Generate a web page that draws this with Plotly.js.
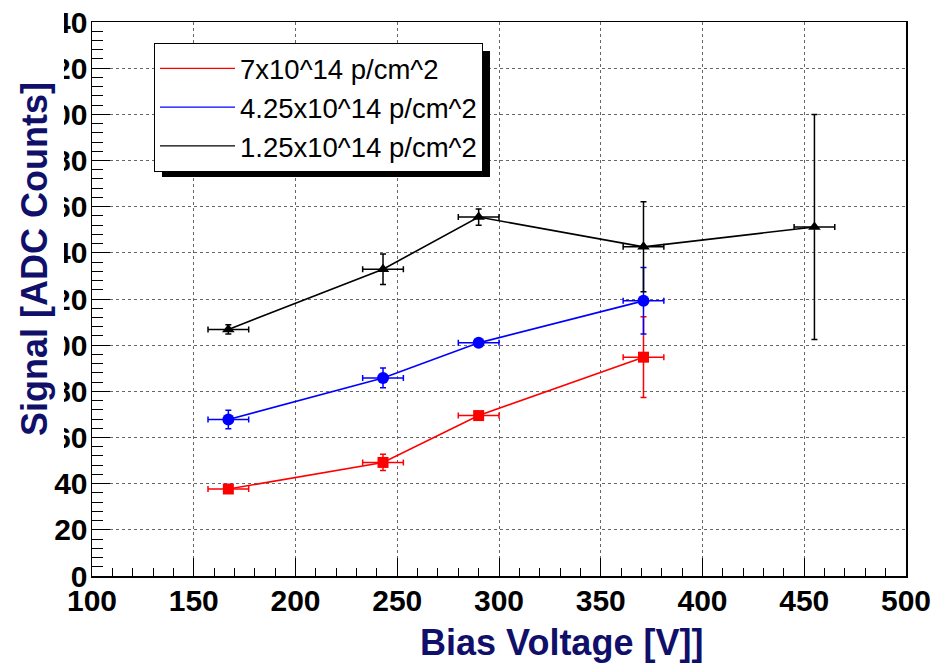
<!DOCTYPE html>
<html>
<head>
<meta charset="utf-8">
<script src="https://cdn.plot.ly/plotly-3.0.1.min.js"></script>
<style>html,body{margin:0;padding:0;background:#fff;}#chart{width:936px;height:664px;}</style>
</head>
<body>
<div id="chart"></div>
<script>
// ---- data ----
const legendLabels = ["7x10^14 p/cm^2", "4.25x10^14 p/cm^2", "1.25x10^14 p/cm^2"];

const volt7 = [167, 243, 290, 371];
const sig7 = [37.7, 49.2, 69.5, 94.8];
const sigErr7 = [1.5, 3.5, 1.5, 17.5];
const voltErr7 = [10, 10, 10, 10];

const volt425 = [167, 243, 290, 371];
const sig425 = [67.8, 85.8, 101.0, 119.2];
const sigErr425 = [4.0, 4.3, 1.5, 14.4];
const voltErr425 = [10, 10, 10, 10];

const volt125 = [167, 243, 290, 371, 455];
const sig125 = [106.8, 132.9, 155.5, 142.6, 151.2];
const sigErr125 = [2.0, 6.6, 3.5, 19.5, 48.7];
const voltErr125 = [10, 10, 10, 10, 10];

const xTitle = "Bias Voltage [V]]";
const yTitle = "Signal [ADC Counts]";

// ---- layout geometry (pixels) ----
const W = 936, H = 664;
const M = {l: 92, r: 30, t: 22, b: 88};
const pw = W - M.l - M.r, ph = H - M.t - M.b;
const px2x = p => (p - M.l) / pw;
const py2y = p => (H - M.b - p) / ph;

function dataTrace(x, y, ex, ey, color, symbol, size) {
  return {
    x: x, y: y, type: 'scatter', mode: 'lines+markers', showlegend: false,
    line: {color: color, width: 1.6},
    marker: {color: color, symbol: symbol, size: size},
    error_y: {type: 'data', array: ey, visible: true, color: color, thickness: 1.5, width: 3},
    error_x: {type: 'data', array: ex, visible: true, color: color, thickness: 1.5, width: 3}
  };
}
function legendTrace(name, color) {
  return {x: [null], y: [null], type: 'scatter', mode: 'lines', name: name,
          line: {color: color, width: 1.2}, showlegend: true, hoverinfo: 'skip'};
}

const traces = [
  dataTrace(volt7, sig7, voltErr7, sigErr7, '#ff0000', 'square', 11),
  dataTrace(volt425, sig425, voltErr425, sigErr425, '#0000ff', 'circle', 12),
  dataTrace(volt125, sig125, voltErr125, sigErr125, '#000000', 'triangle-up', 11),
  legendTrace(legendLabels[0], '#ff0000'),
  legendTrace(legendLabels[1], '#0000ff'),
  legendTrace(legendLabels[2], '#000000')
];

const tickFont = {family: 'Liberation Sans, Arial, sans-serif', size: 30, color: '#000', weight: 'bold'};
const titleColor = '#10106b';

const layout = {
  width: W, height: H,
  margin: M,
  paper_bgcolor: '#fff', plot_bgcolor: '#fff',
  font: {family: 'Liberation Sans, Arial, sans-serif'},
  xaxis: {
    range: [100, 500], tick0: 100, dtick: 50,
    ticks: 'inside', ticklen: 18, tickwidth: 1, tickcolor: '#000',
    showline: true, linecolor: '#000', linewidth: 1.5, mirror: true,
    showgrid: true, gridcolor: '#666', griddash: 'dot', gridwidth: 1,
    zeroline: false, tickfont: tickFont, ticklabelstandoff: -3,
    minor: {dtick: 10, tick0: 100, ticks: 'inside', ticklen: 8, tickcolor: '#000', tickwidth: 1, showgrid: false}
  },
  yaxis: {
    range: [0, 240], tick0: 0, dtick: 20,
    ticks: 'inside', ticklen: 18, tickwidth: 1, tickcolor: '#000',
    showline: true, linecolor: '#000', linewidth: 1.5, mirror: true,
    showgrid: true, gridcolor: '#666', griddash: 'dot', gridwidth: 1,
    zeroline: false, tickfont: tickFont, ticklabelstandoff: -3,
    minor: {dtick: 4, tick0: 0, ticks: 'inside', ticklen: 11, tickcolor: '#000', tickwidth: 1, showgrid: false}
  },
  legend: {
    x: px2x(154), y: py2y(43), xanchor: 'left', yanchor: 'top',
    xref: 'paper', yref: 'paper',
    bgcolor: '#fff', bordercolor: '#000', borderwidth: 1,
    font: {family: 'Liberation Sans, Arial, sans-serif', size: 27.5, color: '#000'},
    tracegroupgap: 0, itemwidth: 75
  },
  shapes: [
    // white mask that the ROOT title box drew over the y tick labels
    {type: 'rect', xref: 'paper', yref: 'paper', layer: 'above',
     x0: px2x(-5), x1: px2x(64), y0: py2y(458), y1: py2y(-5),
     fillcolor: '#fff', line: {width: 0}},
    // legend drop shadow
    {type: 'rect', xref: 'paper', yref: 'paper', layer: 'above',
     x0: px2x(162), x1: px2x(490), y0: py2y(177), y1: py2y(51),
     fillcolor: '#000', line: {width: 0}}
  ],
  annotations: [
    {text: yTitle, textangle: -90, xref: 'paper', yref: 'paper',
     x: px2x(34), y: py2y(259), xanchor: 'center', yanchor: 'middle', showarrow: false,
     font: {family: 'Liberation Sans, Arial, sans-serif', size: 36, color: titleColor, weight: 'bold'}},
    {text: xTitle, xref: 'paper', yref: 'paper',
     x: px2x(561), y: py2y(642), xanchor: 'center', yanchor: 'middle', showarrow: false,
     font: {family: 'Liberation Sans, Arial, sans-serif', size: 36, color: titleColor, weight: 'bold'}}
  ]
};

Plotly.newPlot('chart', traces, layout, {displayModeBar: false, staticPlot: true});
</script>
</body>
</html>
